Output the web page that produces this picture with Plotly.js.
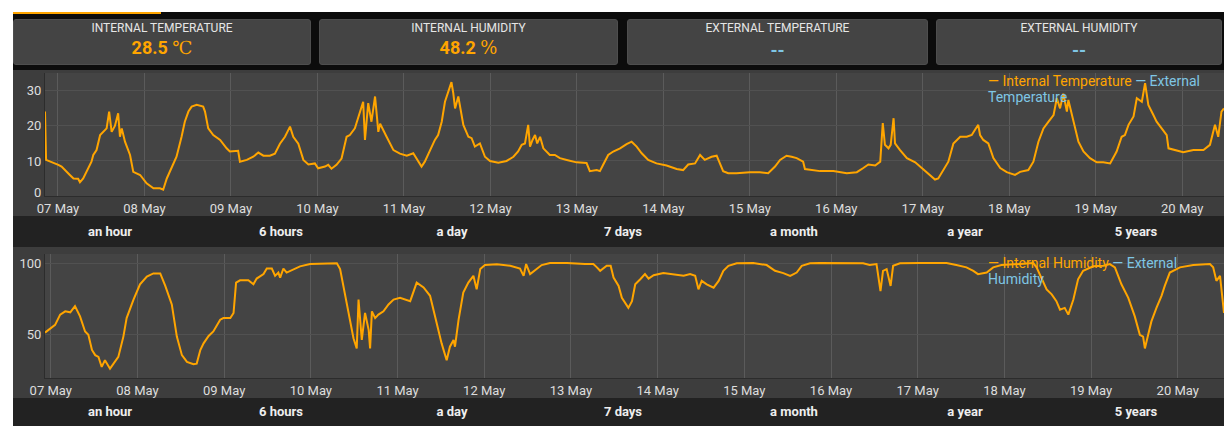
<!DOCTYPE html>
<html><head><meta charset="utf-8">
<script src="https://cdn.plot.ly/plotly-3.0.1.min.js"></script>
<style>
html,body{margin:0;padding:0;background:#fff;width:1224px;height:426px;overflow:hidden;font-family:Roboto,"Noto Sans",sans-serif;}
#dash{position:absolute;left:13px;top:12px;width:1211px;height:414px;background:#0c0c0c;}
#bar{position:absolute;left:13px;top:12px;width:148px;height:2px;background:#FFA500;}
.card{position:absolute;top:19px;height:46px;background:#444;border-radius:3px;box-sizing:border-box;border:1px solid #4e4e4e;text-align:center;}
.ct{position:absolute;left:0;right:0;top:0px;font-size:12px;color:#e6e6e6;line-height:16px;}
.cv{position:absolute;left:0;right:0;top:17px;font-size:18px;font-weight:bold;color:#FFA500;line-height:22px;}
.cv .u{font-family:"DejaVu Serif","Liberation Serif",serif;font-weight:normal;}
.cv.ext{color:#7fc6e4;top:20px;}
.chart{position:absolute;left:13px;width:1211px;}
.btns{position:absolute;left:13px;width:1211px;background:#222;display:flex;padding-left:11.5px;box-sizing:border-box;}
.btns div{flex:0 0 171px;text-align:center;color:#eee;font-weight:bold;font-size:13px;}
</style>
</head>
<body>
<div id="dash"></div>
<div id="bar"></div>
<div id="cards"></div>
<div id="c1" class="chart" style="top:70px;height:146px;"></div>
<div id="b1" class="btns" style="top:216px;height:31px;line-height:31px;"></div>
<div id="c2" class="chart" style="top:247px;height:151px;"></div>
<div id="b2" class="btns" style="top:398px;height:28px;line-height:28px;"></div>
<script>
// ---- data ----
const cardTitles = ['INTERNAL TEMPERATURE', 'INTERNAL HUMIDITY', 'EXTERNAL TEMPERATURE', 'EXTERNAL HUMIDITY'];
const cardValues = ['28.5', '48.2', '--', '--'];
const cardUnits = ['℃', '%', '', ''];
const rangeButtons = ['an hour', '6 hours', 'a day', '7 days', 'a month', 'a year', '5 years'];
const tempSeriesNames = ['Internal Temperature', 'External Temperature'];
const humSeriesNames = ['Internal Humidity', 'External Humidity'];
const tempTicks = [0, 10, 20, 30];
const humTicks = [50, 100];

// hours since 07 May 00:00
const tempHours = [-3.6,-3.3,0.1,1.0,3.3,4.3,5.6,6.1,7.0,8.4,9.3,9.8,10.7,11.7,12.6,13.5,14.2,14.9,15.8,16.7,17.2,17.7,18.6,20.0,20.9,21.8,22.8,24.6,26.5,28.3,29.2,30.2,31.5,32.9,34.3,35.2,36.2,37.1,38.5,40.3,40.8,41.7,43.1,45.0,46.8,47.7,50.0,50.5,52.4,54.2,55.6,57.0,58.8,60.2,61.6,63.0,64.4,65.3,66.7,68.1,69.5,71.3,72.2,74.1,75.0,75.9,77.3,78.7,80.1,81.0,82.4,83.8,84.7,85.2,86.1,87.0,88.0,88.9,89.4,91.2,93.1,94.9,96.8,98.6,100.0,100.9,101.8,103.2,104.6,105.5,106.5,107.4,108.3,109.2,109.7,110.2,111.1,111.6,112.5,113.9,114.8,115.7,117.1,118.5,119.9,122.2,124.5,126.4,127.7,128.7,129.6,130.5,131.0,131.7,132.4,133.0,133.8,134.7,136.5,137.9,139.3,141.2,143.9,146.7,147.6,149.5,150.4,151.3,152.7,154.1,156.0,157.8,159.2,160.6,162.0,163.8,166.1,168.9,171.7,173.5,174.9,176.8,178.2,179.5,181.4,182.8,184.6,186.0,188.3,192.0,194.8,197.1,199.0,200.4,202.2,203.6,205.0,206.8,207.3,211.5,215.2,218.9,221.7,223.5,224.9,226.8,228.2,228.9,229.5,230.5,231.1,231.9,232.3,233.7,235.6,237.9,239.7,241.6,243.4,244.3,245.7,247.1,248.5,250.4,252.2,253.6,254.5,255.4,255.9,256.8,258.2,259.6,261.5,263.3,265.6,267.0,269.3,270.7,272.1,273.5,274.9,276.3,277.2,278.1,279.0,280.0,280.4,281.8,283.2,284.6,286.4,288.3,290.1,292.0,293.8,295.2,296.1,297.1,298.5,299.4,300.8,301.7,302.6,304.0,304.9,306.3,307.7,308.2,310.0,312.3,315.1,317.9,319.7,321.1,322.0,322.9,323.6];
const tempValues = [24.1,10.3,8.9,8.4,6.0,5.0,4.9,3.9,5.0,7.9,9.8,11.7,13.1,17.4,18.3,19.3,24.1,18.3,20.0,23.6,16.9,19.3,15.5,11.7,6.9,6.5,6.0,3.6,2.2,2.2,1.8,5.0,7.9,11.2,16.9,21.2,24.1,25.5,26.0,25.5,24.1,19.3,17.4,16.0,13.6,12.7,12.9,9.8,10.3,11.2,12.4,11.5,11.5,12.1,14.9,16.9,19.8,16.9,14.9,10.3,9.0,9.3,7.9,8.4,8.9,7.8,8.9,10.7,16.9,17.4,19.3,23.6,26.9,16.0,26.5,21.2,28.4,18.3,20.6,16.9,13.1,12.1,11.5,12.2,9.8,8.4,9.8,13.1,16.0,17.4,21.2,26.9,29.8,32.5,29.4,25.0,28.4,25.0,20.3,16.9,16.5,14.1,15.0,11.2,10.0,9.5,10.0,11.2,12.7,14.6,15.0,20.3,14.1,16.0,17.4,15.0,16.9,13.6,11.7,11.7,10.8,10.3,9.6,9.4,7.1,7.4,7.1,8.9,11.7,12.7,13.6,14.8,15.5,14.1,12.2,10.3,9.3,8.7,7.7,7.4,9.0,9.3,11.7,10.3,11.2,11.5,7.1,6.5,6.5,6.8,6.8,6.5,8.4,10.3,11.5,11.2,10.8,9.8,7.7,7.1,7.1,6.5,6.8,8.0,9.0,8.7,9.8,20.8,14.6,13.6,14.6,22.2,15.0,13.1,10.8,9.6,8.0,6.1,4.7,5.0,7.4,9.8,15.0,16.9,16.9,17.4,18.9,20.3,17.4,16.0,15.0,10.8,8.0,6.8,6.0,6.9,7.4,9.8,15.5,19.3,21.2,23.1,27.9,25.0,29.2,24.1,27.4,21.2,15.5,12.7,10.8,9.6,9.6,9.3,12.7,16.9,17.4,20.3,22.7,27.9,26.9,32.2,26.0,23.1,21.2,19.3,17.4,13.6,13.1,12.5,13.1,13.1,14.6,20.3,16.9,24.1,25.0];

const humHours = [-1.6,-0.2,1.2,2.6,4.0,5.4,6.3,6.7,8.1,9.5,10.4,11.4,12.3,13.2,14.1,15.0,16.4,17.4,18.7,20.1,21.0,22.9,24.7,26.6,28.4,30.3,31.7,33.5,34.9,36.3,37.7,39.5,40.4,41.4,42.3,43.7,45.0,46.9,47.8,49.7,50.6,51.3,52.4,54.7,56.1,57.0,58.9,59.8,61.2,62.1,63.0,63.5,64.4,65.3,67.2,69.0,71.8,74.6,79.2,80.1,81.0,82.4,83.8,84.7,85.2,86.1,87.0,88.0,88.4,88.9,89.8,90.7,92.1,93.5,94.9,96.7,99.5,101.3,103.2,105.0,106.4,108.2,109.6,110.5,111.5,111.9,112.9,114.2,115.6,117.0,117.9,118.9,120.2,123.5,127.2,129.9,130.9,131.6,132.7,134.1,135.9,138.2,142.9,147.9,150.2,151.2,152.1,153.9,155.0,155.8,157.2,158.1,159.9,160.9,161.8,163.2,164.5,165.5,166.9,169.6,172.4,175.2,177.0,178.4,179.3,180.2,181.6,183.5,184.9,186.2,187.6,189.9,194.5,198.2,200.5,202.8,204.7,206.5,207.9,210.2,212.9,220.3,224.9,226.7,228.6,229.7,230.4,231.4,232.5,233.2,235.1,240.6,248.0,250.7,253.5,255.4,256.7,259.1,260.9,263.2,266.4,270.1,272.0,272.9,274.3,275.7,277.1,278.4,279.4,280.7,281.7,283.1,284.4,285.8,288.6,291.4,293.2,294.6,296.4,298.3,300.1,301.5,302.4,302.9,303.8,304.7,306.1,307.5,308.4,309.8,312.6,316.3,320.9,321.8,322.7,323.7,324.1,324.8];
const humValues = [51.6,54.0,57.0,64.1,66.4,65.7,68.8,70.0,62.9,52.4,50.1,39.5,35.9,34.7,27.7,32.4,26.5,30.0,34.7,48.8,61.7,74.6,85.2,90.6,92.8,92.8,84.1,71.2,48.8,35.9,31.2,29.6,30.0,39.5,44.1,49.3,52.4,60.6,61.7,61.7,65.3,86.4,88.0,88.0,85.2,89.2,92.3,96.2,96.2,91.1,93.4,89.9,96.2,93.4,95.8,97.7,99.3,99.3,99.8,95.8,84.1,65.3,47.7,40.6,74.6,46.5,65.3,53.5,40.6,66.4,61.7,64.1,66.4,71.2,74.6,75.8,73.5,86.4,83.0,77.2,63.0,44.1,32.4,41.8,46.5,41.8,60.6,79.4,86.4,91.1,81.7,95.8,98.6,99.1,98.1,96.2,91.1,99.3,92.3,95.3,98.6,100,100,99.3,99.3,97.0,94.6,98.1,98.1,89.9,84.1,75.8,68.8,73.5,85.2,88.7,92.3,89.2,91.5,93.0,92.3,91.1,92.3,91.1,81.7,87.6,85.2,82.9,87.6,94.6,98.1,99.8,100,98.6,94.6,93.0,91.1,93.4,98.1,99.8,100,100,99.8,98.6,99.3,80.5,94.6,95.8,84.1,98.1,99.8,100,100,98.6,97.0,94.6,92.3,93.4,97.0,98.6,99.1,99.3,100,97.0,88.7,81.7,78.2,73.5,67.6,68.8,64.1,74.6,88.7,94.6,97.7,98.1,99.3,97.0,85.2,75.8,62.9,50.1,48.8,40.6,50.1,59.4,68.8,77.2,84.1,93.4,97.0,98.6,99.3,97.0,87.6,91.1,81.7,65.3];

// ---- helpers ----
const BASE = Date.UTC(2023, 4, 7);
function toDate(h) { return new Date(BASE + h * 3600000).toISOString().slice(0, 19).replace('T', ' '); }
const ORANGE = '#FFA500', BLUE = '#7fc6e4';

// cards
const cardBoxes = [[13, 311], [319, 618], [627, 928], [936, 1222]];
const cardsEl = document.getElementById('cards');
cardTitles.forEach((t, i) => {
  const d = document.createElement('div');
  d.className = 'card';
  d.style.left = cardBoxes[i][0] + 'px';
  d.style.width = (cardBoxes[i][1] - cardBoxes[i][0]) + 'px';
  const ext = cardUnits[i] === '';
  d.innerHTML = '<div class="ct">' + t + '</div><div class="cv' + (ext ? ' ext' : '') + '">' + cardValues[i] +
    (cardUnits[i] ? ' <span class="u">' + cardUnits[i] + '</span>' : '') + '</div>';
  cardsEl.appendChild(d);
});
['b1', 'b2'].forEach(id => {
  const el = document.getElementById(id);
  rangeButtons.forEach(b => { const d = document.createElement('div'); d.textContent = b; el.appendChild(d); });
});

function legendAnnotations(names, l1, l2) {
  const b = names[1].split(' ');
  const base = { xref: 'paper', yref: 'paper', x: 0.8007, y: 1, xanchor: 'left', yanchor: 'middle', align: 'left',
    showarrow: false, xshift: -2, borderpad: 0, font: { size: 14, family: 'Roboto, sans-serif' } };
  return [
    Object.assign({}, base, { yshift: -l1, text: '<span style="color:' + ORANGE + '">— ' + names[0] + '</span> <span style="color:' + BLUE + '">— ' + b[0] + '</span>' }),
    Object.assign({}, base, { yshift: -l2, text: '<span style="color:' + BLUE + '">' + b.slice(1).join(' ') + '</span>' })
  ];
}

function makeLayout(h, mt, xr, yr, ticks, names, l1, l2, zeroLabel) {
  const ann = legendAnnotations(names, l1, l2);
  let tv = ticks;
  if (zeroLabel) {
    tv = ticks.filter(v => v !== yr[0]);
    ann.push({ xref: 'paper', yref: 'y', x: 0, y: yr[0], xanchor: 'right', yanchor: 'middle', xshift: -3, yshift: 4,
      showarrow: false, borderpad: 0, text: String(yr[0]), font: { size: 13, color: '#dddddd', family: 'Roboto, sans-serif' } });
  }
  return {
    width: 1211, height: h,
    margin: { l: 32, r: 0, t: mt, b: 20, pad: 0 },
    paper_bgcolor: '#3d3d3d', plot_bgcolor: '#444444',
    font: { family: 'Roboto, sans-serif', size: 13, color: '#dddddd' },
    showlegend: false,
    xaxis: { type: 'date', range: [toDate(xr[0]), toDate(xr[1])], tick0: '2023-05-07', dtick: 86400000,
      tickformat: '%d %b', gridcolor: '#5b5b5b', showline: true, linecolor: '#2c2c2c', zeroline: false, ticks: '' },
    yaxis: { range: yr, tickmode: 'array', tickvals: tv, gridcolor: '#515151', showline: true, linecolor: '#2c2c2c', zeroline: false, ticks: '' },
    annotations: ann
  };
}

const cfg = { staticPlot: true, displayModeBar: false };
Plotly.newPlot('c1', [
  { x: tempHours.map(toDate), y: tempValues, type: 'scatter', mode: 'lines', name: tempSeriesNames[0], line: { color: ORANGE, width: 2 } },
  { x: [], y: [], type: 'scatter', mode: 'lines', name: tempSeriesNames[1], line: { color: BLUE, width: 2 } }
], makeLayout(146, 3, [-3.6, 323.6], [0, 35.1], tempTicks, tempSeriesNames, 8, 24, true), cfg);
Plotly.newPlot('c2', [
  { x: humHours.map(toDate), y: humValues, type: 'scatter', mode: 'lines', name: humSeriesNames[0], line: { color: ORANGE, width: 2 } },
  { x: [], y: [], type: 'scatter', mode: 'lines', name: humSeriesNames[1], line: { color: BLUE, width: 2 } }
], makeLayout(151, 7, [-1.6, 324.8], [20, 106.3], humTicks, humSeriesNames, 9, 25, false), cfg);
</script>
</body></html>
